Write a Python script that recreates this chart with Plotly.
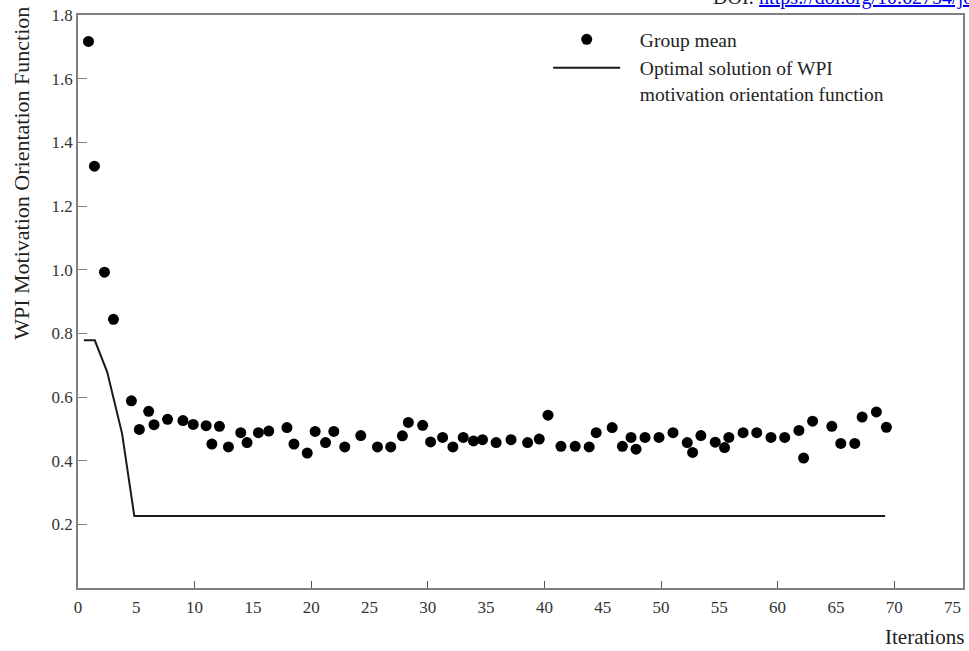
import plotly.graph_objects as go

# Group mean (scatter) values
iter_mean = [0.90, 1.41, 2.27, 3.04, 4.58, 5.26, 6.06, 6.52, 7.68, 9.00, 9.88, 10.99, 11.48, 12.13,
             12.90, 13.96, 14.50, 15.47, 16.36, 17.92, 18.52, 19.66, 20.34, 21.23, 21.94, 22.88,
             24.25, 25.68, 26.82, 27.82, 28.33, 29.56, 30.24, 31.27, 32.15, 33.04, 33.92, 34.69,
             35.86, 37.14, 38.56, 39.56, 40.31, 41.42, 42.64, 43.84, 44.44, 45.81, 46.69, 47.43,
             47.86, 48.63, 49.83, 51.03, 52.25, 52.71, 53.42, 54.65, 55.45, 55.82, 57.04, 58.21,
             59.43, 60.61, 61.83, 62.23, 63.00, 64.65, 65.42, 66.62, 67.25, 68.47, 69.33]
group_mean = [1.717, 1.325, 0.992, 0.844, 0.588, 0.498, 0.555, 0.513, 0.530, 0.526, 0.514, 0.510,
              0.452, 0.508, 0.443, 0.488, 0.457, 0.488, 0.493, 0.504, 0.452, 0.424, 0.492, 0.457,
              0.492, 0.443, 0.479, 0.443, 0.443, 0.478, 0.520, 0.511, 0.459, 0.473, 0.443, 0.473,
              0.462, 0.466, 0.457, 0.466, 0.457, 0.468, 0.543, 0.445, 0.445, 0.443, 0.488, 0.504,
              0.445, 0.473, 0.436, 0.473, 0.473, 0.488, 0.457, 0.426, 0.479, 0.458, 0.441, 0.473,
              0.488, 0.488, 0.473, 0.473, 0.495, 0.408, 0.524, 0.508, 0.454, 0.454, 0.537, 0.553,
              0.505]

# Optimal solution line
iter_opt = [0.50, 1.44, 2.50, 3.78, 4.83, 69.22]
opt_value = [0.778, 0.778, 0.679, 0.485, 0.226, 0.226]

x_label_ticks = list(range(0, 80, 5))
x_mark_ticks = list(range(10, 80, 10))
y_ticks = [0.2, 0.4, 0.6, 0.8, 1.0, 1.2, 1.4, 1.6, 1.8]

SERIF = "Liberation Serif, Times New Roman, serif"
AXIS_COLOR = "#808080"
NB = "\u00a0"

fig = go.Figure()
fig.add_trace(go.Scatter(
    x=iter_mean, y=group_mean, mode="markers", name=NB * 3 + "Group mean",
    marker=dict(color="black", size=11, line=dict(width=0)),
))
fig.add_trace(go.Scatter(
    x=iter_opt, y=opt_value, mode="lines",
    name=NB * 3 + "Optimal solution of WPI<br>" + NB * 3 + "motivation orientation function",
    line=dict(color="#1a1a1a", width=2),
))
# invisible trace to carry the tick-mark axis
fig.add_trace(go.Scatter(x=[None], y=[None], xaxis="x2", showlegend=False, hoverinfo="skip"))

fig.update_layout(
    width=969, height=651,
    margin=dict(l=77.5, r=4, t=15, b=63),
    paper_bgcolor="white", plot_bgcolor="white",
    font=dict(family=SERIF, color="#222222", size=17),
    showlegend=True,
    legend=dict(
        x=0.5313, y=0.991, xanchor="left", yanchor="top",
        bgcolor="rgba(0,0,0,0)", borderwidth=0,
        font=dict(family=SERIF, size=19.5, color="#222222"),
        itemwidth=67, valign="top",
    ),
    xaxis=dict(
        range=[0, 75.9], tickvals=x_label_ticks, ticks="", showgrid=False, zeroline=False,
        showline=True, linecolor=AXIS_COLOR, linewidth=1.5, mirror=True,
        tickfont=dict(family=SERIF, size=17, color="#333333"), ticklabelstandoff=3,
    ),
    xaxis2=dict(
        range=[0, 75.9], overlaying="x", side="bottom", tickvals=x_mark_ticks,
        ticks="inside", ticklen=7, tickwidth=1.2, tickcolor="#555555",
        showticklabels=False, showgrid=False, zeroline=False, showline=False,
    ),
    yaxis=dict(
        range=[0, 1.8], tickvals=y_ticks, tickformat=".1f", ticks="inside", ticklen=9,
        tickwidth=1.2, tickcolor=AXIS_COLOR, showgrid=False, zeroline=False,
        showline=True, linecolor=AXIS_COLOR, linewidth=1.5, mirror=True,
        tickfont=dict(family=SERIF, size=17, color="#333333"),
    ),
    annotations=[
        dict(text="WPI Motivation Orientation Function", textangle=-90,
             xref="paper", yref="paper", x=-0.0637, y=0.724, xanchor="center", yanchor="middle",
             showarrow=False, font=dict(family=SERIF, size=22, color="#222222")),
        dict(text="Iterations", xref="paper", yref="paper", x=1.0034, y=-0.0855,
             xanchor="right", yanchor="middle", showarrow=False,
             font=dict(family=SERIF, size=21, color="#222222")),
        dict(text='DOI: <a href="https://doi.org/10.62754/joe.v3i4.3629"><span style="color:#0000ee"><u>https://doi.org/10.62754/joe.v3i4.3629</u></span></a>',
             xref="paper", yref="paper", x=0.715, y=1.031, xanchor="left", yanchor="middle",
             showarrow=False, font=dict(family=SERIF, size=20, color="#222222")),
    ],
)

fig.write_html("out.html", config={"displayModeBar": False},
               post_script="document.body.style.margin='0px';")
